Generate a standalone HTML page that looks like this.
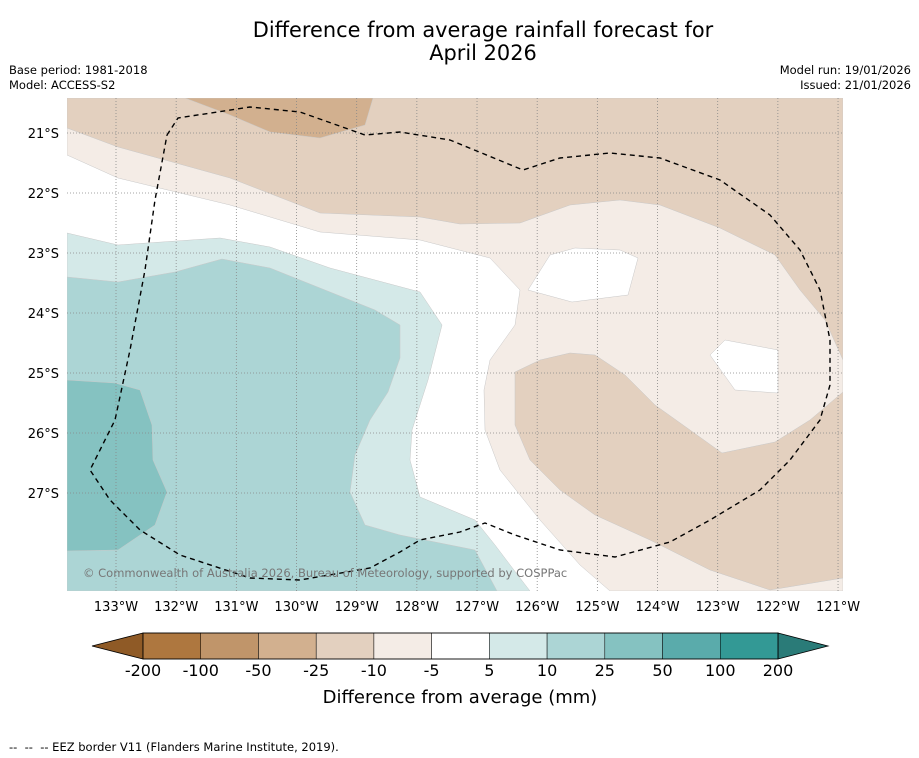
<!DOCTYPE html>
<html><head><meta charset="utf-8">
<style>
body{margin:0;background:#fff;font-family:"Liberation Sans","DejaVu Sans",sans-serif;}
#wrap{position:relative;width:919px;height:758px;overflow:hidden;}
.t{position:absolute;font-family:"DejaVu Sans","Liberation Sans",sans-serif;}
</style></head><body>
<div id="wrap">
<div class="t" style="left:0;width:966px;top:19px;text-align:center;font-size:20.9px;line-height:23px;">Difference from average rainfall forecast for<br>April 2026</div>
<div class="t" style="left:9px;top:63px;font-size:11.5px;line-height:15px;">Base period: 1981-2018<br>Model: ACCESS-S2</div>
<div class="t" style="right:8px;top:63px;font-size:11.5px;line-height:15px;text-align:right;">Model run: 19/01/2026<br>Issued: 21/01/2026</div>
<svg id="svg" width="919" height="758" style="position:absolute;left:0;top:0"></svg>
<div class="t" style="left:9px;top:740px;font-size:11.5px;">-- &nbsp;-- &nbsp;-- EEZ border V11 (Flanders Marine Institute, 2019).</div>
</div>
<script>
const lonTicks=[133,132,131,130,129,128,127,126,125,124,123,122,121];
const latTicks=[21,22,23,24,25,26,27];
const latLabels=["21°S","22°S","23°S","24°S","25°S","26°S","27°S"];
const cbLevels=["-200","-100","-50","-25","-10","-5","5","10","25","50","100","200"];
const cbColors=["#ae773f","#c0956a","#d2b08f","#e3d0bf","#f4ece6","#ffffff","#d4e9e8","#acd5d5","#85c2c1","#5aabab","#339995"];
const X0=67,X1=843,Y0=98,Y1=591;
function xLon(l){return 116+(133-l)*60.17;}
function yLat(l){return 133+(l-21)*60;}
const NS="http://www.w3.org/2000/svg";
const svg=document.getElementById('svg');
function mk(t,a,p){const e=document.createElementNS(NS,t);for(const k in a)e.setAttribute(k,a[k]);(p||svg).appendChild(e);return e;}
const light=[[67,98],[843,98],[843,591],[610,591],[580,565],[540,520],[500,470],[485,430],[484,390],[490,360],[515,325],[520,290],[490,258],[420,240],[320,232],[230,205],[118,178],[67,155]];
const hole1=[[528,290],[550,255],[575,248],[620,250],[638,258],[628,295],[572,302]];
const hole2=[[710,355],[725,340],[778,350],[778,393],[735,390]];
const brownTop=[[67,98],[843,98],[843,360],[825,320],[800,290],[775,255],[720,228],[660,205],[620,200],[570,205],[520,223],[460,224],[420,217],[320,213],[230,178],[118,147],[67,128]];
const brownLow=[[843,392],[810,420],[775,442],[722,453],[690,430],[655,405],[625,375],[595,355],[570,353],[540,360],[515,372],[515,425],[530,460],[560,490],[595,515],[650,540],[710,570],[770,590],[843,578]];
const brownDark=[[185,98],[373,98],[365,125],[320,138],[270,132],[230,115]];
const teal1=[[67,233],[118,245],[220,238],[270,247],[330,268],[420,292],[442,325],[428,380],[412,430],[410,460],[420,497],[475,520],[495,545],[520,578],[530,591],[67,591]];
const teal2=[[67,277],[118,282],[175,272],[222,259],[270,268],[320,288],[375,310],[400,325],[400,358],[388,392],[370,420],[355,455],[350,492],[365,525],[400,535],[475,550],[497,591],[67,591]];
const teal3=[[67,380],[115,383],[140,390],[152,425],[153,460],[167,492],[155,525],[118,550],[67,551]];
const eez=[[167,135],[178,118],[250,107],[300,112],[365,135],[400,132],[450,140],[523,170],[560,158],[610,153],[660,158],[720,180],[770,215],[800,250],[820,290],[830,340],[830,385],[820,420],[790,460],[760,490],[710,520],[670,542],[615,557],[560,550],[515,535],[485,523],[460,532],[420,540],[400,552],[370,568],[300,580],[250,578],[180,555],[140,530],[110,500],[90,470],[115,420],[130,350],[145,270],[155,200],[167,135]];
const pts=a=>a.map(p=>p.join(',')).join(' ');
const clip=mk('clipPath',{id:'mc'});mk('rect',{x:X0,y:Y0,width:X1-X0,height:Y1-Y0},clip);
const g=mk('g',{'clip-path':'url(#mc)'});

function poly(a,fill,name){const e=mk('polygon',{points:pts(a),fill:fill,stroke:'#c8c8c8','stroke-width':0.5},g);}
poly(light,'#f4ece6','contour-minus10-minus5');
poly(hole1,'#ffffff','contour-neutral-1');
poly(hole2,'#ffffff','contour-neutral-2');
poly(brownTop,'#e3d0bf','contour-minus25-minus10-north');
poly(brownLow,'#e3d0bf','contour-minus25-minus10-southeast');
poly(brownDark,'#d2b08f','contour-minus50-minus25');
poly(teal1,'#d4e9e8','contour-5-10');
poly(teal2,'#acd5d5','contour-10-25');
poly(teal3,'#85c2c1','contour-25-50');
lonTicks.forEach(l=>{const e=mk('line',{x1:xLon(l),x2:xLon(l),y1:Y0,y2:Y1,stroke:'#888','stroke-width':0.8,'stroke-dasharray':'1,2'},g);});
latTicks.forEach(l=>{const e=mk('line',{x1:X0,x2:X1,y1:yLat(l),y2:yLat(l),stroke:'#888','stroke-width':0.8,'stroke-dasharray':'1,2'},g);});
const ez=mk('polyline',{points:pts(eez),fill:'none',stroke:'#000','stroke-width':1.4,'stroke-dasharray':'5,4'},g);

const cp=mk('text',{x:83,y:577,'font-size':11.5,fill:'#777','font-family':'DejaVu Sans, Liberation Sans, sans-serif'},g);cp.textContent='© Commonwealth of Australia 2026, Bureau of Meteorology, supported by COSPPac';

lonTicks.forEach(l=>{const e=mk('text',{x:xLon(l),y:611,'font-size':13,'text-anchor':'middle','font-family':'DejaVu Sans, Liberation Sans, sans-serif'});e.textContent=l+'°W';});
latTicks.forEach((l,i)=>{const e=mk('text',{x:59,y:yLat(l)+5,'font-size':13,'text-anchor':'end','font-family':'DejaVu Sans, Liberation Sans, sans-serif'});e.textContent=latLabels[i];});
const CB0=143,CB1=778,CT=633,CBt=659,n=cbColors.length,w=(CB1-CB0)/n;
const cbx=i=>CB0+i*w;
const lt=mk('polygon',{points:`${CB0},${CT} 92,${(CT+CBt)/2} ${CB0},${CBt}`,fill:'#8f5a26',stroke:'#000','stroke-width':0.8});
const rt=mk('polygon',{points:`${CB1},${CT} 828,${(CT+CBt)/2} ${CB1},${CBt}`,fill:'#2a7b78',stroke:'#000','stroke-width':0.8});
cbColors.forEach((c,i)=>{const e=mk('rect',{x:cbx(i),y:CT,width:w,height:CBt-CT,fill:c,stroke:'#000','stroke-width':0.5});});
mk('rect',{x:CB0,y:CT,width:CB1-CB0,height:CBt-CT,fill:'none',stroke:'#000','stroke-width':0.8});
cbLevels.forEach((v,i)=>{const e=mk('text',{x:cbx(i),y:676,'font-size':16,'text-anchor':'middle','font-family':'DejaVu Sans, Liberation Sans, sans-serif'});e.textContent=v;});
const ct=mk('text',{x:460,y:703,'font-size':18,'text-anchor':'middle','font-family':'DejaVu Sans, Liberation Sans, sans-serif'});ct.textContent='Difference from average (mm)';

</script>
</body></html>
